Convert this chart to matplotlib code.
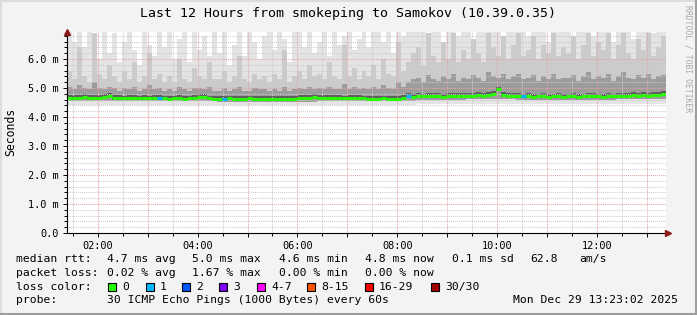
import numpy as np
import matplotlib
matplotlib.use('Agg')
import matplotlib.pyplot as plt
from matplotlib.ticker import MultipleLocator, FixedLocator

W, H = 697, 315
plt.rcParams['font.family'] = 'DejaVu Sans Mono'

# 6 minute bins starting at 01:23:02, values in ms
start_hour = 1 + 23 / 60 + 2 / 3600
step_hours = 0.1

median_ms = [
    4.67, 4.66, 4.67, 4.68, 4.66, 4.66, 4.67, 4.70, 4.72, 4.66,
    4.65, 4.64, 4.66, 4.65, 4.64, 4.65, 4.64, 4.66, 4.65, 4.64,
    4.63, 4.64, 4.65, 4.63, 4.64, 4.66, 4.69, 4.68, 4.64, 4.63,
    4.62, 4.63, 4.64, 4.63, 4.62, 4.63, 4.64, 4.63, 4.62, 4.63,
    4.62, 4.61, 4.62, 4.61, 4.62, 4.62, 4.66, 4.67, 4.66, 4.68,
    4.65, 4.66, 4.67, 4.65, 4.66, 4.64, 4.66, 4.67, 4.66, 4.64,
    4.63, 4.62, 4.63, 4.64, 4.62, 4.63, 4.62, 4.65, 4.72, 4.70,
    4.73, 4.71, 4.74, 4.72, 4.73, 4.70, 4.74, 4.73, 4.72, 4.73,
    4.74, 4.72, 4.75, 4.73, 4.76, 4.80, 4.95, 4.75, 4.73, 4.74,
    4.72, 4.71, 4.73, 4.70, 4.71, 4.72, 4.70, 4.71, 4.72, 4.70,
    4.71, 4.72, 4.70, 4.71, 4.73, 4.72, 4.71, 4.70, 4.72, 4.71,
    4.72, 4.74, 4.73, 4.75, 4.73, 4.76, 4.74, 4.77, 4.75, 4.78,
]

top_ms = [
    6.95, 6.60, 6.95, 6.40, 6.95, 6.70, 6.00, 6.95, 6.20, 6.90,
    5.90, 6.60, 6.95, 6.30, 5.80, 6.95, 6.50, 6.10, 6.95, 6.40,
    6.95, 6.00, 6.70, 6.95, 5.90, 6.95, 6.30, 6.80, 6.10, 6.95,
    6.20, 6.95, 5.80, 6.50, 6.95, 6.10, 6.95, 6.60, 6.00, 6.80,
    6.95, 6.30, 6.95, 6.70, 5.90, 6.95, 6.95, 6.40, 6.95, 6.20,
    6.60, 6.95, 6.10, 6.95, 6.50, 6.80, 6.95, 6.30, 6.70, 6.95,
    6.40, 6.95, 6.95, 6.60, 6.95, 6.20, 6.95, 6.80, 6.95, 6.95,
    6.95, 6.95, 6.70, 6.95, 6.95, 6.50, 6.95, 6.95, 6.80, 6.95,
    6.95, 6.60, 6.95, 6.95, 6.95, 6.95, 6.95, 6.70, 6.95, 6.95,
    6.95, 6.95, 6.80, 6.95, 6.95, 6.95, 6.60, 6.95, 6.95, 6.95,
    6.95, 6.70, 6.95, 6.95, 6.95, 6.80, 6.95, 6.95, 6.95, 6.60,
    6.95, 6.95, 6.95, 6.70, 6.95, 6.95, 6.95, 6.90, 6.95, 6.95,
]

upper_ms = [
    5.6, 5.3, 6.4, 5.4, 5.2, 6.9, 5.5, 5.3, 5.8, 5.4,
    5.2, 5.6, 5.3, 5.9, 5.2, 5.4, 6.2, 5.3, 5.5, 5.2,
    5.4, 5.2, 6.0, 5.3, 5.2, 5.7, 5.4, 5.3, 5.9, 5.3,
    5.3, 5.6, 5.2, 5.4, 6.1, 5.3, 5.2, 5.5, 5.3, 5.4,
    5.2, 5.5, 5.3, 6.3, 5.2, 5.4, 5.6, 5.3, 5.8, 5.4,
    5.5, 5.3, 5.9, 5.4, 5.3, 6.5, 5.4, 5.7, 5.3, 5.6,
    5.4, 5.8, 5.3, 6.0, 5.5, 5.4, 6.6, 5.6, 5.9, 6.2,
    6.4, 5.8, 6.9, 6.1, 5.9, 6.6, 6.0, 6.9, 5.9, 6.3,
    6.0, 6.7, 6.2, 5.9, 6.9, 6.4, 6.1, 6.8, 6.0, 6.5,
    6.9, 6.1, 6.3, 6.8, 6.0, 6.5, 6.2, 6.9, 6.1, 6.4,
    6.2, 6.8, 6.0, 6.5, 6.9, 6.1, 6.6, 6.3, 6.9, 6.0,
    6.5, 6.9, 6.2, 6.0, 6.7, 6.3, 6.9, 6.1, 6.4, 6.8,
]

q3_ms = [
    5.05, 4.95, 5.10, 5.00, 4.95, 5.20, 5.00, 4.95, 5.05, 5.00,
    4.90, 5.00, 4.95, 5.05, 4.90, 4.95, 5.10, 4.95, 5.00, 4.90,
    4.95, 4.90, 5.05, 4.95, 4.90, 5.00, 5.00, 4.95, 5.05, 4.90,
    4.90, 5.00, 4.90, 4.95, 5.05, 4.90, 4.90, 5.00, 4.95, 4.95,
    4.90, 4.95, 4.90, 5.05, 4.90, 4.95, 5.00, 4.95, 5.05, 4.95,
    5.00, 4.95, 5.05, 4.95, 4.95, 5.15, 4.95, 5.05, 4.95, 5.00,
    4.95, 5.05, 4.95, 5.10, 5.00, 4.95, 5.20, 5.05, 5.20, 5.30,
    5.35, 5.20, 5.45, 5.30, 5.25, 5.40, 5.30, 5.50, 5.25, 5.35,
    5.30, 5.45, 5.35, 5.25, 5.55, 5.40, 5.35, 5.50, 5.30, 5.40,
    5.50, 5.30, 5.35, 5.45, 5.25, 5.40, 5.30, 5.50, 5.30, 5.35,
    5.35, 5.45, 5.25, 5.40, 5.55, 5.30, 5.40, 5.35, 5.50, 5.25,
    5.40, 5.55, 5.35, 5.30, 5.45, 5.35, 5.50, 5.30, 5.40, 5.45,
]

# one value per hour
low_hourly_ms = [4.42, 4.42, 4.41, 4.40, 4.40, 4.41, 4.41, 4.44, 4.45, 4.44, 4.44, 4.45]
q1_hourly_ms = [4.56, 4.55, 4.54, 4.53, 4.53, 4.54, 4.54, 4.60, 4.61, 4.60, 4.60, 4.61]

loss_bins = [18, 31, 68, 91]
loss_counts = [1, 1, 1, 1]

loss_labels = ['0', '1', '2', '3', '4-7', '8-15', '16-29', '30/30']
loss_colors = ['#26ff00', '#00b8ff', '#0059ff', '#7e00ff', '#ff00ff', '#ff5500', '#ff0000', '#a00000']

y_ticks = [0, 1, 2, 3, 4, 5, 6]
y_labels = ['0.0', '1.0 m', '2.0 m', '3.0 m', '4.0 m', '5.0 m', '6.0 m']
x_ticks = [2, 3, 4, 5, 6, 7, 8, 9, 10, 11, 12, 13]
x_labels = ['02:00', '', '04:00', '', '06:00', '', '08:00', '', '10:00', '', '12:00', '']

fig = plt.figure(figsize=(W / 100, H / 100), dpi=100, facecolor='#f3f3f3')
ax = fig.add_axes([67 / W, (H - 233) / H, (666 - 67) / W, (233 - 32) / H])
ax.set_facecolor('white')

t = start_hour + np.arange(len(median_ms)) * step_hours
med = np.array(median_ms)
low = np.repeat(low_hourly_ms, 10)
q1 = np.repeat(q1_hourly_ms, 10)
top = np.array(top_ms)
upper = np.array(upper_ms)
q3 = np.array(q3_ms)

# smoke, lightest outer pings to darkest near the median
ax.bar(t, top - low, bottom=low, width=step_hours, align='edge', color='#e4e4e4', lw=0, zorder=1)
ax.bar(t, upper - q1, bottom=q1, width=step_hours, align='edge', color='#cbcbcb', lw=0, zorder=1.1)
ax.bar(t, q3 - q1, bottom=q1, width=step_hours, align='edge', color='#9c9c9c', lw=0, zorder=1.2)
ax.bar(t, np.full(len(t), 0.16), bottom=med - 0.06, width=step_hours, align='edge',
       color='#5e5e5e', lw=0, zorder=1.3)

seg_colors = [loss_colors[0]] * len(t)
for b, c in zip(loss_bins, loss_counts):
    seg_colors[b] = loss_colors[c]
ax.hlines(med, t, t + step_hours, colors=seg_colors, lw=2.2, zorder=3)

ax.set_xlim(start_hour, start_hour + 12)
ax.set_ylim(0, 201 / 29)

ax.yaxis.set_major_locator(FixedLocator(y_ticks))
ax.set_yticklabels(y_labels)
ax.yaxis.set_minor_locator(MultipleLocator(0.2))
ax.xaxis.set_major_locator(FixedLocator(x_ticks))
ax.set_xticklabels(x_labels)
ax.xaxis.set_minor_locator(MultipleLocator(0.5))

ax.set_axisbelow(False)
ax.grid(which='major', color='#eaa0a0', ls=(0, (1, 1)), lw=0.75, zorder=2.5)
ax.grid(which='minor', color='#cccccc', ls=(0, (1, 1)), lw=0.75, zorder=2.4)

for s in ['top', 'right']:
    ax.spines[s].set_visible(False)
for s in ['left', 'bottom']:
    ax.spines[s].set_color('black')
    ax.spines[s].set_linewidth(0.8)
    ax.spines[s].set_zorder(4)

ax.tick_params(which='major', length=3, width=0.7, labelsize=7.4, pad=3)
ax.tick_params(which='minor', length=2, width=0.7)

# axis arrows
ax.plot([0], [1.0], marker='^', ms=4.5, color='#8b1a1a', transform=ax.transAxes, clip_on=False, zorder=5)
ax.plot([1.004], [0], marker='>', ms=4.5, color='#8b1a1a', transform=ax.transAxes, clip_on=False, zorder=5)

# overlay in pixel coords for text and frame
ov = fig.add_axes([0, 0, 1, 1])
ov.set_xlim(0, W)
ov.set_ylim(H, 0)
ov.axis('off')
ov.patch.set_alpha(0)

ov.plot([0.5, 0.5], [0, H], color='#dcdcdc', lw=1.5)
ov.plot([0, W], [0.5, 0.5], color='#dcdcdc', lw=1.5)
ov.plot([W - 1.5, W - 1.5], [0, H], color='#9e9e9e', lw=2.2)
ov.plot([0, W], [H - 1.5, H - 1.5], color='#9e9e9e', lw=2.2)

ov.text(348, 14, 'Last 12 Hours from smokeping to Samokov (10.39.0.35)',
        ha='center', va='center', fontsize=9.5)
ov.text(11, 132, 'Seconds', rotation=90, ha='center', va='center', fontsize=8.3)
ov.text(688, 5, 'RRDTOOL / TOBI OETIKER', rotation=270, ha='center', va='top',
        fontsize=5.8, color='#a8a8a8')

fs = 8.2
row1 = [(16, 'median rtt:'), (107, '4.7 ms avg'), (192, '5.0 ms max'), (279, '4.6 ms min'),
        (365, '4.8 ms now'), (452, '0.1 ms sd'), (530, '62.8'), (579, 'am/s')]
row2 = [(16, 'packet loss:'), (107, '0.02 % avg'), (192, '1.67 % max'), (279, '0.00 % min'),
        (365, '0.00 % now')]
row4 = [(16, 'probe:'), (107, '30 ICMP Echo Pings (1000 Bytes) every 60s'),
        (513, 'Mon Dec 29 13:23:02 2025')]
for y, row in [(259, row1), (273, row2), (300, row4)]:
    for x, s in row:
        ov.text(x, y, s, ha='left', va='center', fontsize=fs)

ov.text(16, 287, 'loss color:', ha='left', va='center', fontsize=fs)
box_x = [108, 146, 182, 219, 257, 307, 365, 431]
for bx, lab, col in zip(box_x, loss_labels, loss_colors):
    ov.add_patch(plt.Rectangle((bx, 283), 8, 8, facecolor=col, edgecolor='black', lw=0.8))
    ov.text(bx + 14, 287, lab, ha='left', va='center', fontsize=fs)

fig.savefig('out.png', dpi=100, facecolor=fig.get_facecolor())
